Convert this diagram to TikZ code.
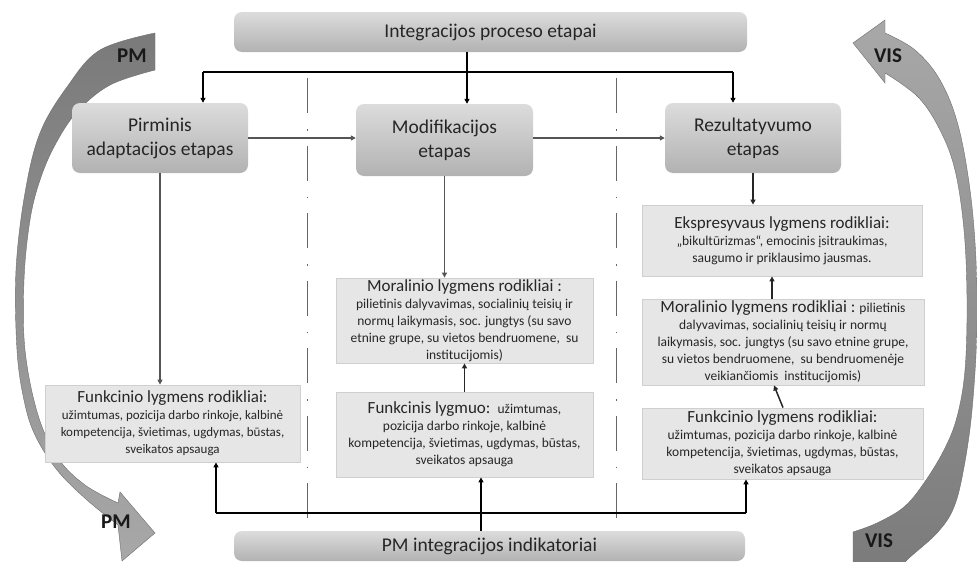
\documentclass[tikz,border=0pt]{standalone}
\usepackage{fontspec}
\setmainfont{Carlito}
\usetikzlibrary{arrows.meta,calc}
\definecolor{txt}{HTML}{262626}
\definecolor{stageT}{HTML}{DCDCDC}
\definecolor{stageB}{HTML}{B2B2B2}
\definecolor{indF}{HTML}{E6E6E6}
\definecolor{indD}{HTML}{CFCFCF}
\definecolor{arcD}{HTML}{7A7A7A}
\definecolor{arcL}{HTML}{A8A8A8}
\definecolor{arcE}{HTML}{6E6E6E}
\definecolor{gl}{HTML}{555555}
\begin{document}
\begin{tikzpicture}[x=1pt,y=-1pt,
  stage/.style={rounded corners=8pt, top color=stageT, bottom color=stageB, draw=none,
    align=center, font=\fontsize{19.5}{24}\selectfont, text=txt, inner sep=0pt},
  ind/.style={fill=indF, draw=indD, line width=0.8pt, align=center, inner sep=0pt, text=txt},
  smallA/.style={font=\fontsize{13}{17}\selectfont},
  smallB/.style={font=\fontsize{13.5}{17}\selectfont},
  arr/.style={-{Triangle[length=5pt,width=5pt]}},
  topline/.style={line width=1.6pt, black},
  gline/.style={line width=1.3pt, gl},
  dline/.style={line width=1.5pt, black!85},
  sepline/.style={line width=0.9pt, black!60, dash pattern=on 35pt off 16pt on 1.5pt off 15pt},
  lbl/.style={font=\fontsize{21}{24}\selectfont\bfseries, text=black!90, inner sep=0pt},
  arcshape/.style={draw=arcE, line width=0.4pt}
]
\useasboundingbox (0,0) rectangle (977,562);
\fill[white] (0,0) rectangle (977,562);

% big curved arrows
\shade[arcshape, top color=arcD, bottom color=arcL]
  plot[smooth, tension=0.6] coordinates {(155,33) (100,50) (67,87) (40,133) (25,193) (16,270) (17,350) (24,400) (35,435) (57,470) (87,500) (118,525)}
  -- (122,561) -- (155,533) -- (120,492) --
  plot[smooth, tension=0.6] coordinates {(118,503) (85,485) (58,458) (38,415) (25,350) (24,280) (30,220) (40,180) (55,145) (77,112) (110,85) (155,70)}
  -- cycle;
\shade[arcshape, top color=arcL, bottom color=arcD]
  (853,43) -- (885,20) --
  plot[smooth, tension=0.6] coordinates {(885,33) (915,50) (940,80) (958,125) (970,190) (976,260) (977,330) (972,410) (964,467) (954,507) (937,533) (905,562) (893,580)}
  -- (853,580) --
  plot[smooth, tension=0.6] coordinates {(853,532) (877,523) (904,507) (924,483) (944,450) (957,417) (965,370) (967,300) (964,230) (955,170) (940,130) (918,97) (885,73)}
  -- (885,83) -- cycle;
\node[lbl] (pm1) at (132,56) {PM};
\node[lbl] (pm2) at (116,522) {PM};
\node[lbl] (vis1) at (888,56) {VIS};
\node[lbl] (vis2) at (879,541) {VIS};

% main boxes
\node[stage, minimum width=513pt, minimum height=40pt] (head) at (490.5,32) {Integracijos proceso etapai};
\node[stage, minimum width=176pt, minimum height=70pt] (pir) at (160,138) {Pirminis\\adaptacijos etapas};
\node[stage, minimum width=177pt, minimum height=72pt] (mod) at (444.5,140) {Modifikacijos\\etapas};
\node[stage, minimum width=176pt, minimum height=70pt] (rez) at (753,138) {Rezultatyvumo\\etapas};
\node[stage, minimum width=511pt, minimum height=30pt] (bot) at (489.5,546) {PM integracijos indikatoriai};

% separators
\coordinate (d1) at (307,78);
\coordinate (d2) at (616,78);
\draw[sepline] (d1) -- (d1 |- bot.north);
\draw[sepline] (d2) -- (d2 |- bot.north);

% indicator boxes
\node[ind, smallA, minimum width=255pt, minimum height=77pt] (lf) at (172.5,423.5)
  {{\fontsize{17}{17}\selectfont Funkcinio lygmens rodikliai:}\\užimtumas, pozicija darbo rinkoje, kalbinė\\kompetencija, švietimas, ugdymas, būstas,\\sveikatos apsauga};
\node[ind, smallB, minimum width=257pt, minimum height=85pt] (mm) at (464.5,320.5)
  {{\fontsize{17}{17}\selectfont Moralinio lygmens rodikliai :}\\pilietinis dalyvavimas, socialinių teisių ir\\normų laikymasis, soc. jungtys (su savo\\etnine grupe, su vietos bendruomene,\ \ su\\institucijomis)};
\node[ind, smallB, minimum width=257pt, minimum height=85pt] (mf) at (464.5,434.5)
  {{\fontsize{17}{17}\selectfont Funkcinis lygmuo:}\hspace{3pt} užimtumas,\\pozicija darbo rinkoje, kalbinė\\kompetencija, švietimas, ugdymas, būstas,\\sveikatos apsauga};
\node[ind, smallB, minimum width=280pt, minimum height=71pt] (re) at (782,240.5)
  {{\fontsize{17}{17}\selectfont Ekspresyvaus lygmens rodikliai:}\\„bikultūrizmas“, emocinis įsitraukimas,\\saugumo ir priklausimo jausmas.};
\node[ind, smallB, minimum width=282pt, minimum height=86pt] (rm) at (783,342)
  {{\fontsize{17}{17}\selectfont Moralinio lygmens rodikliai :} pilietinis\\dalyvavimas, socialinių teisių ir normų\\laikymasis, soc. jungtys (su savo etnine grupe,\\su vietos bendruomene,\ \ su bendruomenėje\\veikiančiomis\ \ institucijomis)};
\node[ind, smallB, minimum width=281pt, minimum height=71pt] (rf) at (782.5,443.5)
  {{\fontsize{17}{17}\selectfont Funkcinio lygmens rodikliai:}\\užimtumas, pozicija darbo rinkoje, kalbinė\\kompetencija, švietimas, ugdymas, būstas,\\sveikatos apsauga};

% top connectors
\coordinate (hj) at (467,72);
\coordinate (hl) at (203,72);
\coordinate (hr) at (733,72);
\draw[topline] (head.south -| hj) -- (hj);
\draw[topline] (hl) -- (hr);
\draw[topline,arr] (hl) -- (hl |- pir.north);
\draw[topline,arr] (hj) -- (hj |- mod.north);
\draw[topline,arr] (hr) -- (hr |- rez.north);

% stage connectors
\draw[gline,arr] (pir.east) -- (pir.east -| mod.west);
\draw[gline,arr] (pir.east -| mod.east) -- (pir.east -| rez.west);
\draw[gline,arr] (pir.south) -- (pir.south |- lf.north);
\draw[gline,arr] (mod.south) -- (mod.south |- mm.north);
\draw[dline,arr] (mf.north) -- (mm.south);
\draw[dline,arr] (rez.south) -- (rez.south |- re.north);
\coordinate (rmx) at (772,0);
\draw[dline,arr] (rm.north -| rmx) -- (re.south -| rmx);
\coordinate (rfx) at (783,0);
\coordinate (rmx2) at (774,0);
\draw[dline,arr] (rf.north -| rfx) -- (rm.south -| rmx2);

% bottom connectors
\coordinate (bj) at (481,513);
\coordinate (bl) at (216,513);
\coordinate (br) at (746,513);
\draw[topline] (bot.north -| bj) -- (bj);
\draw[topline] (bl) -- (br);
\draw[topline,arr] (bl) -- (bl |- lf.south);
\draw[topline,arr] (bj) -- (bj |- mf.south);
\draw[topline,arr] (br) -- (br |- rf.south);
\end{tikzpicture}
\end{document}
